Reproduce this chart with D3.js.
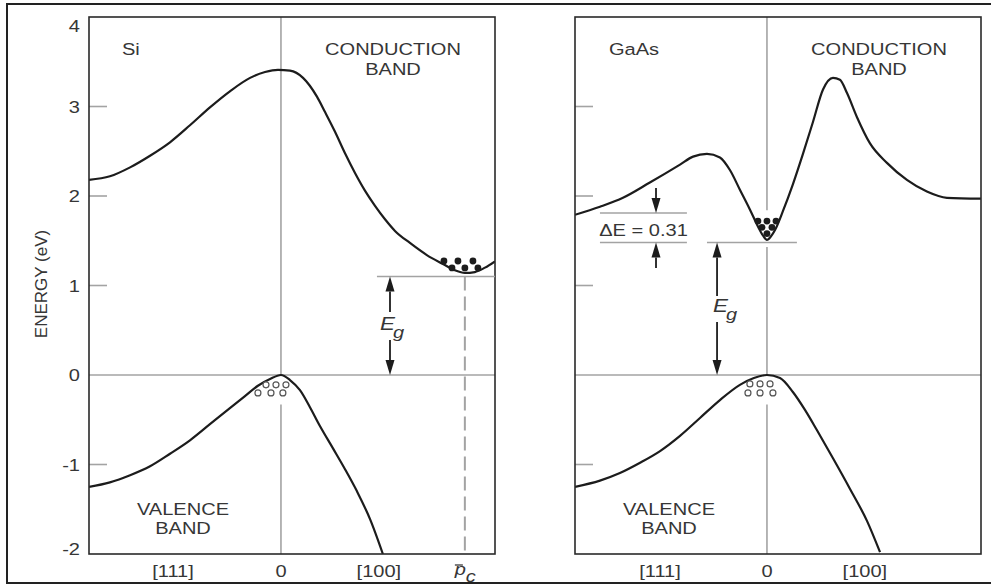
<!DOCTYPE html>
<html>
<head>
<meta charset="utf-8">
<script src="https://cdn.jsdelivr.net/npm/d3@7"></script>
<style>
  body { margin: 0; background: #fff; }
  svg text { font-family: "Liberation Sans", Arial, sans-serif; fill: #363636; }
</style>
</head>
<body>
<svg id="chart" width="991" height="586"></svg>
<script>
// ---- data (k in arbitrary units, 0 = zone centre; E in eV) ----
const energyTicks = [-2, -1, 0, 1, 2, 3, 4];

const siConductionK = [-1, -0.891, -0.786, -0.682, -0.578, -0.474, -0.370, -0.266, -0.161, -0.083, -0.016, 0.047, 0.115, 0.1875, 0.229, 0.281, 0.333, 0.385, 0.4375, 0.490, 0.542, 0.594, 0.672, 0.760, 0.844, 0.906, 0.958, 1.010, 1.063, 1.115];
const siConductionE = [2.18, 2.22, 2.32, 2.45, 2.60, 2.79, 2.99, 3.17, 3.32, 3.385, 3.41, 3.40, 3.32, 3.11, 2.94, 2.72, 2.48, 2.26, 2.06, 1.89, 1.74, 1.61, 1.475, 1.34, 1.24, 1.17, 1.14, 1.15, 1.20, 1.27];

const siValenceK = [-1, -0.891, -0.786, -0.682, -0.578, -0.474, -0.370, -0.266, -0.1875, -0.120, -0.057, 0, 0.047, 0.099, 0.151, 0.203, 0.271, 0.333, 0.396, 0.464, 0.531];
const siValenceE = [-1.25, -1.20, -1.12, -1.02, -0.88, -0.73, -0.55, -0.37, -0.235, -0.12, -0.045, 0, -0.056, -0.17, -0.36, -0.57, -0.82, -1.05, -1.30, -1.61, -2.0];

const gaasConductionK = [-1, -0.87, -0.75, -0.61, -0.453, -0.385, -0.3125, -0.245, -0.193, -0.141, -0.089, -0.047, -0.021, 0, 0.021, 0.042, 0.083, 0.135, 0.1875, 0.24, 0.292, 0.344, 0.38, 0.417, 0.469, 0.536, 0.625, 0.729, 0.833, 0.9375, 1.115];
const gaasConductionE = [1.79, 1.88, 1.98, 2.15, 2.35, 2.44, 2.47, 2.43, 2.29, 2.07, 1.85, 1.66, 1.56, 1.51, 1.55, 1.62, 1.83, 2.13, 2.47, 2.83, 3.19, 3.32, 3.30, 3.15, 2.88, 2.59, 2.37, 2.18, 2.05, 1.98, 1.97];

const gaasValenceK = [-1, -0.870, -0.766, -0.661, -0.557, -0.453, -0.349, -0.245, -0.141, -0.068, 0, 0.068, 0.135, 0.198, 0.260, 0.344, 0.432, 0.521, 0.589];
const gaasValenceE = [-1.25, -1.18, -1.095, -0.98, -0.85, -0.68, -0.48, -0.28, -0.11, -0.034, 0, -0.034, -0.19, -0.39, -0.615, -0.93, -1.27, -1.63, -1.98];

const siElectronK = [0.849, 0.922, 1.0, 0.891, 0.958, 1.026];
const siElectronE = [1.274, 1.274, 1.274, 1.196, 1.196, 1.196];
const siHoleK = [-0.078, -0.026, 0.026, -0.12, -0.052, 0.01];
const siHoleE = [-0.11, -0.11, -0.11, -0.2, -0.2, -0.2];

const gaasElectronK = [-0.047, 0, 0.047, -0.026, 0.026, 0];
const gaasElectronE = [1.72, 1.72, 1.72, 1.65, 1.65, 1.58];
const gaasHoleK = [-0.089, -0.036, 0.016, -0.099, -0.036, 0.031];
const gaasHoleE = [-0.1, -0.1, -0.1, -0.2, -0.2, -0.2];

const siGap = 1.1;           // Eg line, Si
const siMinK = 0.958;        // conduction minimum p_c
const gaasGap = 1.48;        // Eg line, GaAs
const gaasSideValley = 1.81; // upper Delta E line
const deltaELabel = 'ΔE = 0.31';

const kLabelsSi = ['[111]', '0', '[100]'];
const kLabelPosSi = [-0.5625, 0, 0.51];
const kLabelsGaas = ['[111]', '0', '[100]'];
const kLabelPosGaas = [-0.557, 0, 0.51];

// ---- layout ----
const svg = d3.select('#chart');
const plotTop = 17, plotBottom = 554, panelW = 406;
const y = d3.scaleLinear().domain([-2, 4]).range([plotBottom, plotTop]);
const kDomain = [-1, 1.115];
const xSi = d3.scaleLinear().domain(kDomain).range([89, 89 + panelW]);
const xGa = d3.scaleLinear().domain(kDomain).range([575, 575 + panelW]);

const INK = '#1c1c1c', GREY = '#a3a3a3', STRETCH = 1.18;

const zip = (ks, es) => ks.map((k, i) => ({k: k, e: es[i]}));

// outer frame
svg.append('rect').attr('x', 7).attr('y', 4).attr('width', 995).attr('height', 579)
    .attr('fill', 'none').attr('stroke', '#222').attr('stroke-width', 2);

// stretched text helper (the original lettering is a little wide)
const label = (g, x, yy, txt, opt) => {
    opt = opt || {};
    return g.append('text')
        .attr('transform', 'translate(' + x + ',' + yy + ') scale(' + STRETCH + ',1)')
        .attr('text-anchor', opt.anchor || 'start')
        .attr('font-size', opt.size || 17)
        .attr('font-style', opt.italic ? 'italic' : null)
        .text(txt);
};

const arrow = (g, x, yFrom, yTip) => {
    const dir = yTip < yFrom ? -1 : 1;
    const headLen = 15, half = 4.5;
    g.append('line').attr('x1', x).attr('x2', x).attr('y1', yFrom).attr('y2', yTip - dir * headLen)
        .attr('stroke', INK).attr('stroke-width', 1.8);
    g.append('path')
        .attr('d', 'M' + x + ',' + yTip + 'L' + (x - half) + ',' + (yTip - dir * headLen) + 'L' + (x + half) + ',' + (yTip - dir * headLen) + 'Z')
        .attr('fill', INK);
};

const drawPanel = (x, cfg, id) => {
    const g = svg.append('g');
    const x0 = x.range()[0], x1 = x.range()[1];

    g.append('clipPath').attr('id', id).append('rect')
        .attr('x', x0).attr('y', plotTop).attr('width', x1 - x0).attr('height', plotBottom - plotTop);

    // ticks
    g.selectAll('.tick').data(energyTicks.filter((t) => t > -2 && t < 4 && t !== 0)).enter()
        .append('line').attr('x1', x0).attr('x2', x0 + 18)
        .attr('y1', (d) => y(d)).attr('y2', (d) => y(d))
        .attr('stroke', GREY).attr('stroke-width', 1.6);

    // zero line
    g.append('line').attr('x1', x0).attr('x2', x1).attr('y1', y(0)).attr('y2', y(0))
        .attr('stroke', GREY).attr('stroke-width', 1.6);

    // k = 0 line with gaps around the carriers
    cfg.zeroGaps.forEach((seg) => {
        g.append('line').attr('x1', x(0)).attr('x2', x(0)).attr('y1', y(seg[0])).attr('y2', y(seg[1]))
            .attr('stroke', GREY).attr('stroke-width', 1.6);
    });

    const line = d3.line().x((d) => x(d.k)).y((d) => y(d.e)).curve(d3.curveMonotoneX);
    const bands = g.append('g').attr('clip-path', 'url(#' + id + ')');
    [cfg.conduction, cfg.valence].forEach((band) => {
        bands.append('path').attr('d', line(band)).attr('fill', 'none')
            .attr('stroke', INK).attr('stroke-width', 2.2);
    });

    // electrons and holes
    g.selectAll('.el').data(cfg.electrons).enter().append('circle')
        .attr('cx', (d) => x(d.k)).attr('cy', (d) => y(d.e)).attr('r', 3.4).attr('fill', INK);
    g.selectAll('.hole').data(cfg.holes).enter().append('circle')
        .attr('cx', (d) => x(d.k)).attr('cy', (d) => y(d.e)).attr('r', 3)
        .attr('fill', '#fff').attr('stroke', '#555').attr('stroke-width', 1.2);

    // k labels
    cfg.kLabels.forEach((t, i) => {
        label(g, x(cfg.kPos[i]), 577, t, {anchor: 'middle'});
    });

    // box
    g.append('rect').attr('x', x0).attr('y', plotTop).attr('width', x1 - x0).attr('height', plotBottom - plotTop)
        .attr('fill', 'none').attr('stroke', '#2a2a2a').attr('stroke-width', 1.6);

    // band names
    const cx = x0 + 304, vx = x0 + 94;
    label(g, cx, 55, 'CONDUCTION', {anchor: 'middle'});
    label(g, cx, 75, 'BAND', {anchor: 'middle'});
    label(g, vx, 515, 'VALENCE', {anchor: 'middle'});
    label(g, vx, 534, 'BAND', {anchor: 'middle'});
    label(g, x0 + (cfg.name === 'Si' ? 33 : 34), 55, cfg.name);
    return g;
};

const si = drawPanel(xSi, {
    name: 'Si',
    conduction: zip(siConductionK, siConductionE),
    valence: zip(siValenceK, siValenceE),
    electrons: zip(siElectronK, siElectronE),
    holes: zip(siHoleK, siHoleE),
    zeroGaps: [[4, 0], [-0.33, -2]],
    kLabels: kLabelsSi, kPos: kLabelPosSi
}, 'clipSi');

const gaas = drawPanel(xGa, {
    name: 'GaAs',
    conduction: zip(gaasConductionK, gaasConductionE),
    valence: zip(gaasValenceK, gaasValenceE),
    electrons: zip(gaasElectronK, gaasElectronE),
    holes: zip(gaasHoleK, gaasHoleE),
    zeroGaps: [[4, 1.84], [1.43, 0], [-0.33, -2]],
    kLabels: kLabelsGaas, kPos: kLabelPosGaas
}, 'clipGa');

// y axis labels (left panel only)
energyTicks.forEach((t) => {
    const nudge = t === 4 ? 9 : (t === -2 ? -5 : 0);
    label(svg, 80, y(t) + 6 + nudge, t, {anchor: 'end'});
});
svg.append('text').attr('transform', 'translate(47,284) rotate(-90)')
    .attr('text-anchor', 'middle').attr('font-size', 17).text('ENERGY (eV)');

// ---- Si annotations ----
si.append('line').attr('x1', xSi(0.5)).attr('x2', xSi(kDomain[1])).attr('y1', y(siGap)).attr('y2', y(siGap))
    .attr('stroke', GREY).attr('stroke-width', 1.6);
si.append('line').attr('x1', xSi(siMinK)).attr('x2', xSi(siMinK)).attr('y1', y(siGap)).attr('y2', plotBottom)
    .attr('stroke', GREY).attr('stroke-width', 2).attr('stroke-dasharray', '14,6');
const siArrowX = xSi(0.568);
arrow(si, siArrowX, 312, y(siGap));
arrow(si, siArrowX, 340, y(0));
label(si, siArrowX - 10, 330, 'E', {italic: true, size: 19});
label(si, siArrowX + 3, 338, 'g', {italic: true, size: 17});
// p-bar c
const pcX = xSi(siMinK);
label(si, pcX - 10, 575, 'p', {italic: true, size: 17});
label(si, pcX + 1, 582, 'c', {italic: true, size: 17});
si.append('line').attr('x1', pcX - 10).attr('x2', pcX - 2).attr('y1', 565).attr('y2', 565)
    .attr('stroke', '#3a3a3a').attr('stroke-width', 1.3);

// ---- GaAs annotations ----
gaas.append('line').attr('x1', xGa(-0.3125)).attr('x2', xGa(0.156)).attr('y1', y(gaasGap)).attr('y2', y(gaasGap))
    .attr('stroke', GREY).attr('stroke-width', 1.6);
[gaasSideValley, gaasGap].forEach((e) => {
    gaas.append('line').attr('x1', xGa(-0.87)).attr('x2', xGa(-0.417)).attr('y1', y(e)).attr('y2', y(e))
        .attr('stroke', GREY).attr('stroke-width', 1.6);
});
const dEx = xGa(-0.578);
arrow(gaas, dEx, 188, y(gaasSideValley));
arrow(gaas, dEx, 268, y(gaasGap));
label(gaas, xGa(-0.643), 236, deltaELabel, {anchor: 'middle'});
const gaArrowX = xGa(-0.26);
arrow(gaas, gaArrowX, 296, y(gaasGap));
arrow(gaas, gaArrowX, 322, y(0));
label(gaas, gaArrowX - 4, 312, 'E', {italic: true, size: 19});
label(gaas, gaArrowX + 9, 320, 'g', {italic: true, size: 17});
</script>
</body>
</html>
